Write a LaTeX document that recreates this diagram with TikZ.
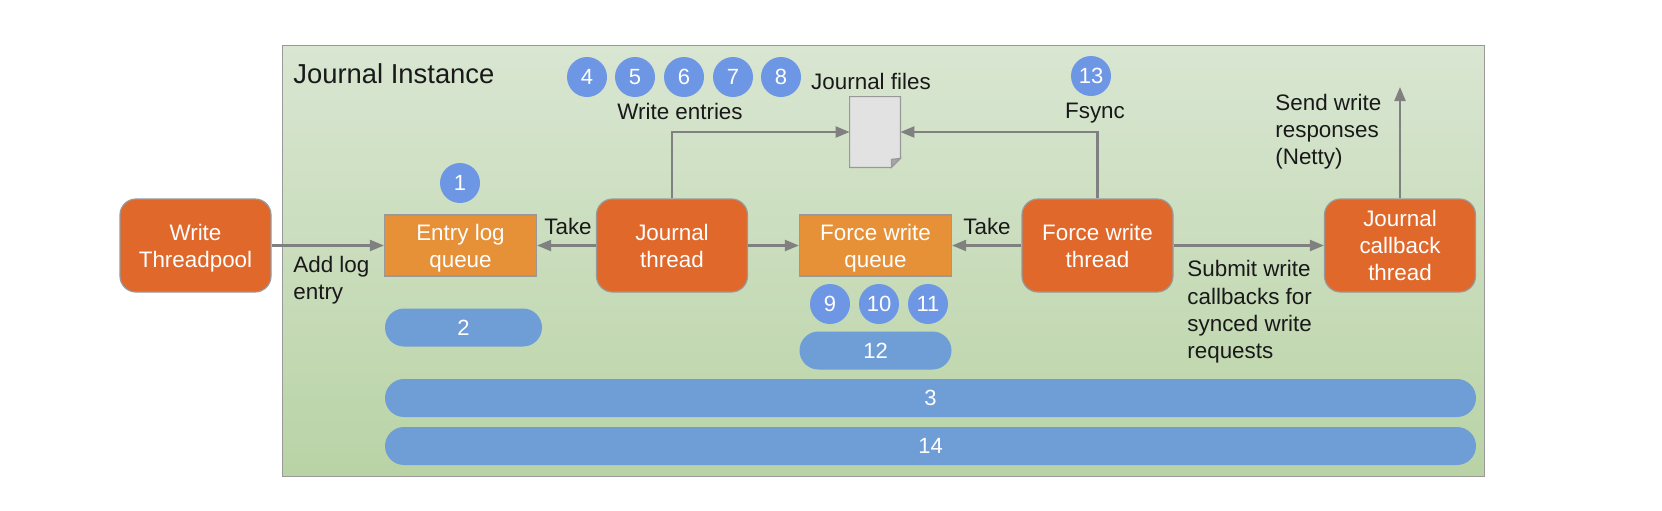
\documentclass[tikz,border=0pt]{standalone}
\usepackage{fontspec}
\setmainfont{Liberation Sans}
\usepackage{xcolor}
\definecolor{ThreadOrange}{RGB}{224, 104, 42}
\definecolor{QueueOrange}{RGB}{230, 145, 56}
\definecolor{PillBlue}{RGB}{111, 157, 214}
\definecolor{StepBlue}{RGB}{109, 150, 228}
\definecolor{LineGray}{RGB}{128, 128, 128}
\definecolor{FrameTop}{RGB}{217, 230, 210}
\definecolor{FrameBottom}{RGB}{185, 211, 165}
\definecolor{DocGray}{RGB}{226, 226, 226}
\usetikzlibrary{arrows.meta, calc}

\begin{document}
\begin{tikzpicture}[
        x=0.5pt, y=-0.5pt,
        frame/.style={rectangle, draw=LineGray!80, line width=0.5pt, top color=FrameTop, bottom color=FrameBottom, minimum width=601pt, minimum height=215.5pt, inner sep=0pt},
        boxtext/.style={align=center, inner sep=0pt, text=white, font=\fontsize{11.2}{13.6}\selectfont, text depth=0pt},
        thread/.style={rectangle, draw=LineGray!80, line width=0.6pt, fill=ThreadOrange, rounded corners=8pt, minimum width=75.5pt, minimum height=46.5pt, boxtext},
        queue/.style={rectangle, draw=LineGray!80, line width=0.6pt, fill=QueueOrange, minimum width=76pt, minimum height=30.5pt, boxtext},
        stepno/.style={circle, fill=StepBlue, text=white, minimum size=20pt, inner sep=0pt, font=\fontsize{11}{13}\selectfont},
        pill/.style={rectangle, fill=PillBlue, text=white, rounded corners=9.5pt, minimum height=19pt, inner sep=0pt, font=\fontsize{11}{13}\selectfont},
        txt/.style={align=left, inner sep=0pt, anchor=west, text=black!90, font=\fontsize{11.2}{13.6}\selectfont},
        link/.style={-{Triangle[length=7pt,width=5.5pt]}, line width=1.1pt, color=LineGray}
    ]
        \useasboundingbox (0,0) rectangle (1662,510);

        % --- FRAME ---
        \node[frame] (inst) at (883,260.5) {};
        \node[txt, font=\fontsize{13.7}{16}\selectfont] (insttitle) at (293,74) {Journal Instance};

        % --- THREADS ---
        \node[thread] (writer) at (195.5,245.5) {Write\\Threadpool};
        \node[thread] (journal) at (672,245.5) {Journal\\thread};
        \node[thread] (force) at (1097.5,245.5) {Force write\\thread};
        \node[thread] (callback) at (1400,245.5) {Journal\\callback\\thread};

        % --- QUEUES ---
        \node[queue] (entryq) at (460.5,245.5) {Entry log\\queue};
        \node[queue] (forceq) at (875.5,245.5) {Force write\\queue};

        % --- JOURNAL FILES ---
        \node[minimum width=25pt, minimum height=35pt, inner sep=0pt] (files) at (875,132) {};
        \draw[draw=LineGray!80, line width=0.6pt, fill=DocGray] (files.north west) -- (files.north east) -- ([yshift=4.5pt]files.south east) -- ([xshift=-4.5pt]files.south east) -- (files.south west) -- cycle;
        \draw[draw=LineGray!80, line width=0.6pt, fill=LineGray!70] ([yshift=4.5pt]files.south east) -- ([xshift=-4.5pt,yshift=4pt]files.south east) -- ([xshift=-4.5pt]files.south east) -- cycle;
        \node[txt, anchor=center] (fileslabel) at (871,81) {Journal files};

        % --- STEPS ---
        \node[stepno] (s1) at (460,183) {1};
        \foreach \n/\x in {4/587, 5/635, 6/684, 7/733, 8/781} {
            \node[stepno] (s\n) at (\x,77) {\n};
        }
        \foreach \n/\x in {9/830, 10/879, 11/928} {
            \node[stepno] (s\n) at (\x,304) {\n};
        }
        \node[stepno] (s13) at (1091,76) {13};

        \node[pill, minimum width=78.5pt] (s2) at (463.5,327.5) {2};
        \node[pill, minimum width=76pt] (s12) at (875.5,350.5) {12};
        \node[pill, minimum width=545.5pt] (s3) at (930.5,398) {3};
        \node[pill, minimum width=545.5pt] (s14) at (930.5,446) {14};

        % --- LABELS ---
        \node[txt, anchor=center] (writelabel) at (680,111) {Write entries};
        \node[txt, anchor=center] (fsynclabel) at (1095,113) {Fsync};
        \node[txt, anchor=center] (take1) at (568,226) {Take};
        \node[txt, anchor=center] (take2) at (987,226) {Take};
        \node[txt] (addlabel) at (293,280.5) {Add log\\entry};
        \node[txt] (sendlabel) at (1275,132) {Send write\\responses\\(Netty)};
        \node[txt] (submitlabel) at (1187,312) {Submit write\\callbacks for\\synced write\\requests};

        % --- CONNECTIONS ---
        \coordinate (sendend) at (1400,87);
        \draw[link] (writer) -- (entryq);
        \draw[link] (journal) -- (entryq);
        \draw[link] (journal) -- (forceq);
        \draw[link] (force) -- (forceq);
        \draw[link] (force) -- (callback);
        \draw[link] (journal.north) |- (files.west);
        \draw[link] (force.north) |- (files.east);
        \draw[link] (callback.north) -- (sendend);

    \end{tikzpicture}
\end{document}
